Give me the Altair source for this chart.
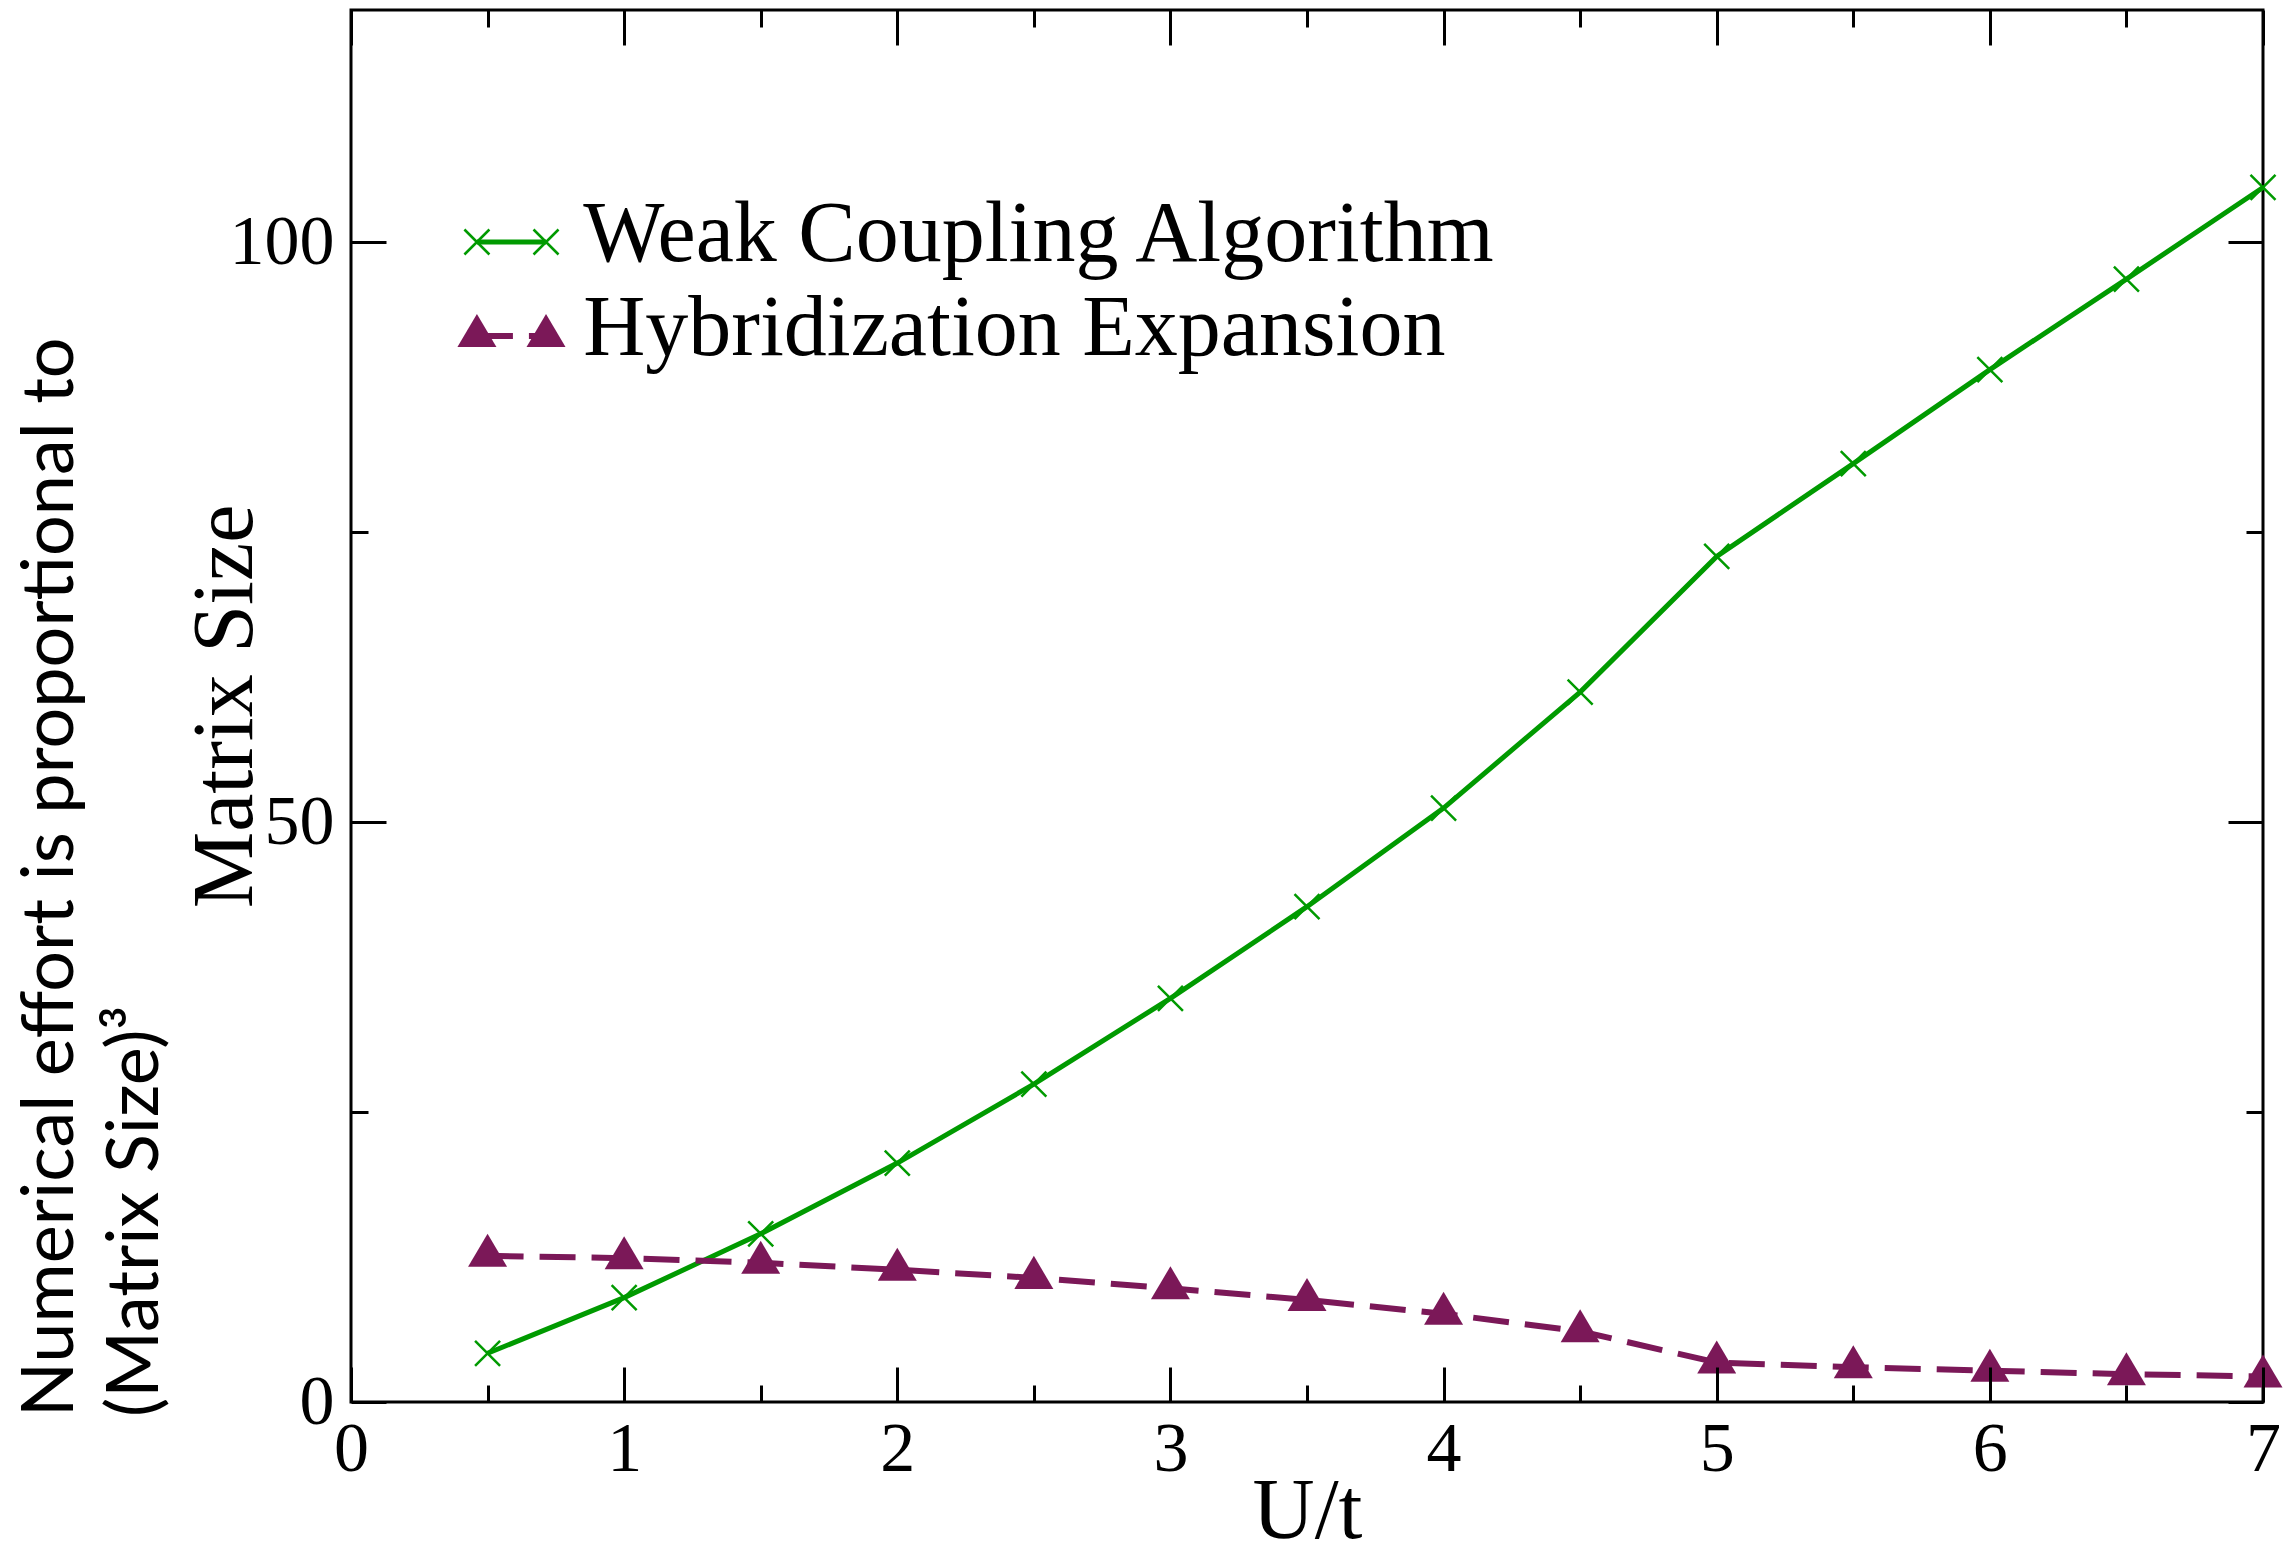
import altair as alt
import pandas as pd

# ---------------- data ----------------
u_values = [0.5, 1.0, 1.5, 2.0, 2.5, 3.0, 3.5, 4.0, 4.5, 5.0, 5.5, 6.0, 6.5, 7.0]
weak_coupling = [4.2, 9.0, 14.5, 20.6, 27.4, 34.8, 42.7, 51.2, 61.2, 72.9, 80.9, 89.0, 96.8, 104.7]
hybridization = [12.6, 12.4, 12.0, 11.4, 10.7, 9.8, 8.8, 7.6, 6.1, 3.4, 3.0, 2.7, 2.4, 2.2]
series_names = ["Weak Coupling Algorithm", "Hybridization Expansion"]

x_major_ticks = [0, 1, 2, 3, 4, 5, 6, 7]
x_minor_ticks = [0.5, 1.5, 2.5, 3.5, 4.5, 5.5, 6.5]
y_major_ticks = [0, 50, 100]
y_minor_ticks = [25, 75]

x_title = "U/t"
y_title = "Matrix Size"
side_title_lines = ["Numerical effort is proportional to", "(Matrix Size)\u00b3"]

# ---------------- layout / style constants ----------------
W, H = 1912, 1392
PAD = {"left": 351, "top": 10, "right": 22, "bottom": 149}
GREEN = "#009a00"
PURPLE = "#7b1858"
SERIF = "Liberation Serif"
T_MAJ, T_MIN = 35, 17
LEG_X = [0.461, 0.714]
LEG_Y = [100.0, 91.9]
LEG_TEXT_X = 0.85

weak_df = pd.DataFrame({"U": u_values, "size": weak_coupling})
hyb_df = pd.DataFrame({"U": u_values, "size": hybridization})
leg_weak = pd.DataFrame({"U": LEG_X, "size": [LEG_Y[0]] * 2})
leg_hyb = pd.DataFrame({"U": LEG_X, "size": [LEG_Y[1]] * 2})
leg_text = pd.DataFrame({"U": [LEG_TEXT_X] * 2, "size": LEG_Y, "label": series_names})

XS = alt.Scale(domain=[0, 7], nice=False, zero=False)
YS = alt.Scale(domain=[0, 120], nice=False, zero=False)

common_tick = dict(domain=False, grid=False, tickColor="black", tickWidth=3, zindex=1)

ax_bottom_major = alt.Axis(
    orient="bottom", values=x_major_ticks, tickSize=T_MAJ, offset=-T_MAJ,
    labelFont=SERIF, labelFontSize=70, labelPadding=13, labelColor="black",
    labelFlush=False, labelOverlap=False,
    title=x_title, titleFont=SERIF, titleFontSize=86, titleFontWeight="normal",
    titleColor="black", titleBaseline="alphabetic", titleY=170, **common_tick)
ax_bottom_minor = alt.Axis(orient="bottom", values=x_minor_ticks, tickSize=T_MIN,
                           offset=-T_MIN, labels=False, title=None, **common_tick)
ax_top_major = alt.Axis(orient="top", values=x_major_ticks, tickSize=T_MAJ,
                        offset=-T_MAJ, labels=False, title=None, **common_tick)
ax_top_minor = alt.Axis(orient="top", values=x_minor_ticks, tickSize=T_MIN,
                        offset=-T_MIN, labels=False, title=None, **common_tick)

ax_left_major = alt.Axis(
    orient="left", values=y_major_ticks, tickSize=T_MAJ, offset=-T_MAJ,
    labelFont=SERIF, labelFontSize=70, labelPadding=17, labelColor="black",
    labelFlush=False, labelOverlap=False,
    title=y_title, titleFont=SERIF, titleFontSize=86, titleFontWeight="normal",
    titleColor="black", titleAngle=270, titleAlign="center", titleBaseline="alphabetic",
    titleX=-135, titleY=H / 2, **common_tick)
ax_left_minor = alt.Axis(orient="left", values=y_minor_ticks, tickSize=T_MIN,
                         offset=-T_MIN, labels=False, title=None, **common_tick)
ax_right_major = alt.Axis(orient="right", values=y_major_ticks, tickSize=T_MAJ,
                          offset=-T_MAJ, labels=False, title=None, **common_tick)
ax_right_minor = alt.Axis(orient="right", values=y_minor_ticks, tickSize=T_MIN,
                          offset=-T_MIN, labels=False, title=None, **common_tick)

CROSS = "M-1,-1L1,1M-1,1L1,-1"
TRI = "M0,-1.13L1,0.565L-1,0.565Z"


def enc(xaxis, yaxis):
    return dict(x=alt.X("U:Q", scale=XS, axis=xaxis), y=alt.Y("size:Q", scale=YS, axis=yaxis))


weak_line = alt.Chart(weak_df).mark_line(color=GREEN, strokeWidth=5).encode(
    **enc(ax_bottom_major, ax_left_major))
weak_pts = alt.Chart(weak_df).mark_point(shape=CROSS, filled=False, stroke=GREEN,
                                         strokeWidth=2.5, size=625, opacity=1).encode(
    **enc(ax_bottom_minor, ax_left_minor))
hyb_line = alt.Chart(hyb_df).mark_line(color=PURPLE, strokeWidth=6, strokeDash=[36, 16]).encode(
    **enc(ax_top_major, ax_right_major))
hyb_pts = alt.Chart(hyb_df).mark_point(shape=TRI, filled=True, fill=PURPLE, strokeWidth=0,
                                       size=1521, opacity=1).encode(
    **enc(ax_top_minor, ax_right_minor))

leg_weak_line = alt.Chart(leg_weak).mark_line(color=GREEN, strokeWidth=5).encode(**enc(None, None))
leg_weak_pts = alt.Chart(leg_weak).mark_point(shape=CROSS, filled=False, stroke=GREEN,
                                              strokeWidth=2.5, size=625, opacity=1).encode(**enc(None, None))
leg_hyb_line = alt.Chart(leg_hyb).mark_line(color=PURPLE, strokeWidth=6, strokeDash=[36, 16]).encode(
    **enc(None, None))
leg_hyb_pts = alt.Chart(leg_hyb).mark_point(shape=TRI, filled=True, fill=PURPLE, strokeWidth=0,
                                            size=1521, opacity=1).encode(**enc(None, None))
leg_labels = alt.Chart(leg_text).mark_text(align="left", baseline="alphabetic", dy=19, font=SERIF,
                                           fontSize=86, color="black").encode(
    text="label:N", **enc(None, None))

side1 = alt.Chart(alt.Data(values=[{"t": side_title_lines[0]}])).mark_text(
    angle=270, align="left", baseline="alphabetic", font="Lato", fontSize=72, color="black"
).encode(x=alt.value(-278), y=alt.value(1407), text="t:N")
side2 = alt.Chart(alt.Data(values=[{"t": side_title_lines[1]}])).mark_text(
    angle=270, align="left", baseline="alphabetic", font="Lato", fontSize=72, color="black"
).encode(x=alt.value(-193), y=alt.value(1407), text="t:N")

chart = alt.layer(
    weak_line, weak_pts, hyb_line, hyb_pts,
    leg_weak_line, leg_weak_pts, leg_hyb_line, leg_hyb_pts, leg_labels,
    side1, side2,
).resolve_axis(x="independent", y="independent").properties(
    width=W, height=H, autosize=alt.AutoSizeParams(type="none"), padding=PAD,
    background="white",
).configure_view(stroke="black", strokeWidth=3).configure_axis(grid=False)

chart.save("out.html", embed_options={"renderer": "svg", "actions": False})
